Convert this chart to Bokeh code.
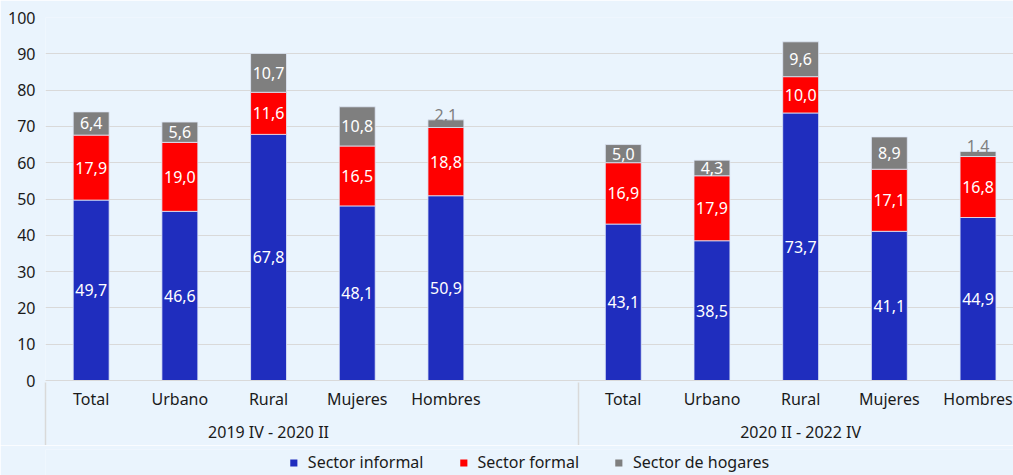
from bokeh.plotting import figure
from bokeh.models import (Range1d, FixedTicker, LinearAxis, Legend, LegendItem,
                          ColumnDataSource)
from bokeh.layouts import column
from bokeh.embed import file_html
from bokeh.resources import INLINE
from bokeh.core.properties import value

# ---- data ----
categories = ["Total", "Urbano", "Rural", "Mujeres", "Hombres"]
periods = ["2019 IV - 2020 II", "2020 II - 2022 IV"]
series_names = ["Sector informal", "Sector formal", "Sector de hogares"]
informal = [49.7, 46.6, 67.8, 48.1, 50.9, 43.1, 38.5, 73.7, 41.1, 44.9]
formal = [17.9, 19.0, 11.6, 16.5, 18.8, 16.9, 17.9, 10.0, 17.1, 16.8]
hogares = [6.4, 5.6, 10.7, 10.8, 2.1, 5.0, 4.3, 9.6, 8.9, 1.4]
y_ticks = [0, 10, 20, 30, 40, 50, 60, 70, 80, 90, 100]

colors = ["#1f2dbe", "#ff0000", "#7f7f7f"]
FONT = "Noto Sans"
FS = "16px"
TXT = "#1a1a1a"
GRID = "#d9d9d9"
BG = "#eaf4fd"

# slot positions: 5 categories per period, one empty slot between periods
xs = []
for g in range(len(periods)):
    for i in range(len(categories)):
        xs.append(g * (len(categories) + 1) + i)
x_start = -0.515
separators = [x_start, len(categories) + 0.5]

src = ColumnDataSource(dict(x=xs, informal=informal, formal=formal, hogares=hogares))

p = figure(frame_width=968, frame_height=363, output_backend="svg", toolbar_location=None,
           x_range=Range1d(x_start, 10.4), y_range=Range1d(0, 100),
           min_border_top=17, min_border_left=45, min_border_right=0, min_border_bottom=0,
           background_fill_color=BG, border_fill_color=BG)
p.outline_line_color = None

rs = p.vbar_stack(["informal", "formal", "hogares"], x="x", width=0.405, color=colors,
                  line_color="#dfe8f8", line_width=0.8, source=src)

# value labels
in_x, in_y, in_t = [], [], []
out_x, out_y, out_t = [], [], []
for k in range(len(xs)):
    segs = [informal[k], formal[k], hogares[k]]
    base = 0.0
    for j, v in enumerate(segs):
        lab = f"{v:.1f}".replace(".", ",")
        if v < 3:
            out_x.append(xs[k]); out_y.append(base + v); out_t.append(lab)
        else:
            in_x.append(xs[k]); in_y.append(base + v / 2); in_t.append(lab)
        base += v

p.text(x=in_x, y=in_y, text=in_t, text_color="white", text_align="center",
       text_baseline="middle", text_font=value(FONT), text_font_size=FS)
p.text(x=out_x, y=out_y, text=out_t, text_color="#7f7f7f", text_align="center",
       text_baseline="bottom", y_offset=1, text_font=value(FONT), text_font_size=FS)

# y axis
p.yaxis.ticker = FixedTicker(ticks=y_ticks)
p.yaxis.axis_line_color = None
p.yaxis.major_tick_line_color = None
p.yaxis.minor_tick_line_color = None
p.yaxis.major_tick_out = 0
p.yaxis.major_label_standoff = 10
p.yaxis.major_label_text_font = FONT
p.yaxis.major_label_text_font_size = FS
p.yaxis.major_label_text_color = TXT
p.ygrid.ticker = FixedTicker(ticks=y_ticks)
p.ygrid.grid_line_color = GRID
p.xgrid.grid_line_color = None

# category axis
ax1 = p.xaxis[0]
ax1.ticker = FixedTicker(ticks=xs, minor_ticks=[])
ax1.major_label_overrides = {x: categories[i % len(categories)] for i, x in enumerate(xs)}
ax1.axis_line_color = GRID
ax1.major_tick_out = 0
ax1.major_tick_in = 0
ax1.minor_tick_out = 0
ax1.minor_tick_in = 0
ax1.major_tick_line_color = None
ax1.minor_tick_line_color = None
ax1.major_label_standoff = 7
ax1.major_label_text_font = FONT
ax1.major_label_text_font_size = FS
ax1.major_label_text_color = TXT

# period axis
ax2 = LinearAxis(ticker=FixedTicker(ticks=[2, 8], minor_ticks=[]),
                 major_label_overrides={2: periods[0], 8: periods[1]})
ax2.axis_line_color = None
ax2.major_tick_line_color = None
ax2.minor_tick_line_color = None
ax2.major_tick_out = 0
ax2.major_tick_in = 0
ax2.minor_tick_out = 0
ax2.minor_tick_in = 0
ax2.major_label_standoff = 8
ax2.major_label_text_font = FONT
ax2.major_label_text_font_size = FS
ax2.major_label_text_color = TXT
p.add_layout(ax2, "below")

# separator lines between the period groups (ticks pointing up through the label rows)
ax3 = LinearAxis(ticker=FixedTicker(ticks=separators, minor_ticks=[]),
                 major_label_overrides={s: "" for s in separators})
ax3.axis_line_color = None
ax3.major_tick_in = 63
ax3.major_tick_out = 0
ax3.minor_tick_in = 0
ax3.minor_tick_out = 0
ax3.major_tick_line_color = GRID
ax3.major_tick_line_width = 1.5
ax3.minor_tick_line_color = None
ax3.major_label_standoff = 0
ax3.major_label_text_font_size = "1px"
ax3.major_label_text_alpha = 0
p.add_layout(ax3, "below")

# legend strip below the chart (same frame geometry as the chart so columns align)
pl = figure(frame_width=968, frame_height=26, output_backend="svg", toolbar_location=None,
            x_range=Range1d(0, 1), y_range=Range1d(0, 1),
            x_axis_type=None, y_axis_type=None,
            min_border_top=4, min_border_left=45, min_border_right=0, min_border_bottom=0,
            background_fill_color=BG, border_fill_color=BG)
pl.outline_line_color = None
pl.xgrid.visible = False
pl.ygrid.visible = False
# zero-size swatch renderers: only their legend glyphs are seen
swatches = [pl.rect(x=[0], y=[0], width=0, height=0, fill_color=c, line_color=None)
            for c in colors]
legend = Legend(items=[LegendItem(label=n, renderers=[r]) for n, r in zip(series_names, swatches)],
                orientation="horizontal", location="center",
                border_line_color=None, background_fill_alpha=0,
                label_text_font=FONT, label_text_font_size=FS, label_text_color=TXT,
                glyph_width=9, glyph_height=9, spacing=35, label_standoff=10,
                padding=0, margin=0)
pl.add_layout(legend)

layout = column(p, pl, spacing=0)
open("out.html", "w").write(file_html(layout, INLINE))
